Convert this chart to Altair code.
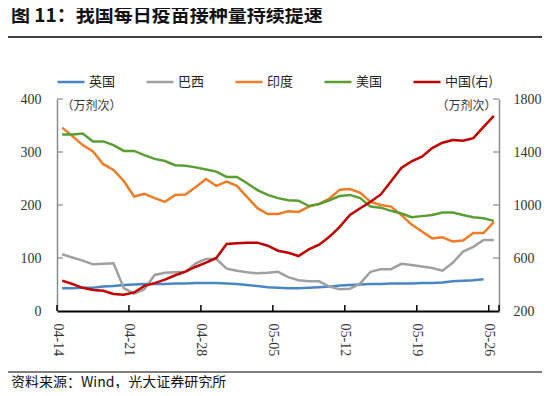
import altair as alt
import pandas as pd

# ---------------- data ----------------
DATES = [d.strftime("%m-%d") for d in pd.date_range("2021-04-14", "2021-05-26")]

SERIES = ["英国", "巴西", "印度", "美国", "中国(右)"]
COLORS = ["#4A86C5", "#A0A0A0", "#F07C28", "#5A9E32", "#C00000"]

UK = [43, 43, 44, 44, 46, 47, 49, 50, 51, 51, 51, 52, 52, 53, 53, 53, 52, 51, 49, 47,
      45, 44, 43, 43, 44, 45, 46, 48, 49, 50, 51, 51, 52, 52, 52, 53, 53, 54, 56, 57,
      58, 60]
BRAZIL = [107, 101, 95, 88, 89, 90, 43, 33, 41, 68, 72, 73, 74, 90, 98, 98, 80, 76, 73, 71,
          72, 74, 64, 58, 56, 56, 46, 41, 42, 52, 74, 79, 79, 89, 87, 84, 81, 76, 91, 112,
          121, 134, 134]
INDIA = [346, 330, 313, 301, 277, 266, 245, 216, 221, 213, 206, 219, 220, 234, 249, 236, 244, 236, 215, 194,
         183, 183, 188, 187, 197, 202, 212, 229, 230, 223, 206, 200, 197, 181, 163, 150, 137, 139, 131, 133,
         147, 147, 168]
USA = [333, 333, 335, 320, 320, 313, 302, 302, 294, 287, 283, 275, 274, 271, 267, 263, 253, 253, 241, 228,
       219, 213, 209, 208, 198, 202, 209, 217, 219, 213, 197, 195, 189, 184, 177, 179, 181, 186, 186, 181,
       177, 175, 170]
CHINA = [429, 404, 375, 358, 352, 328, 322, 340, 390, 410, 437, 470, 497, 534, 565, 600, 706, 711, 716, 716,
         693, 655, 640, 615, 665, 700, 760, 835, 925, 975, 1025, 1080, 1180, 1280, 1330, 1365, 1430, 1470, 1490, 1485,
         1505, 1590, 1672]

X_TICKS = [0, 7, 14, 21, 28, 35, 42]
LEFT_TICKS = [100, 200, 300, 400]
RIGHT_TICKS = [600, 1000, 1400, 1800]

TITLE = "图 11：我国每日疫苗接种量持续提速"
SOURCE = "资料来源：Wind，光大证券研究所"
UNIT = "（万剂次）"

# ---------------- tables ----------------
rows = []
for name, vals in zip(SERIES[:4], [UK, BRAZIL, INDIA, USA]):
    for i, v in enumerate(vals):
        rows.append({"series": name, "pos": i + 0.5, "date": DATES[i], "value": v})
df_left = pd.DataFrame(rows)
df_right = pd.DataFrame([{"series": SERIES[4], "pos": i + 0.5, "date": DATES[i], "value": v}
                         for i, v in enumerate(CHINA)])

W, H = 442, 212
label_arr = "[" + ",".join(f"'{d}'" for d in DATES) + "]"

x_enc = alt.X(
    "pos:Q",
    scale=alt.Scale(domain=[0, 43], nice=False, zero=False),
    axis=alt.Axis(
        values=X_TICKS, labelExpr=f"{label_arr}[datum.value]", labelAngle=90,
        title=None, ticks=False, grid=False, domainColor="#000000", domainWidth=1.8,
        labelPadding=12, labelFont="Liberation Serif", labelFontSize=14, labelColor="#333333",
    ),
)

color_enc = alt.Color(
    "series:N",
    scale=alt.Scale(domain=SERIES, range=COLORS),
    legend=alt.Legend(
        orient="none", legendX=-1, legendY=-32, direction="horizontal", title=None,
        symbolType="stroke", symbolSize=729, symbolStrokeWidth=2.5,
        labelFont="Noto Sans CJK SC", labelFontSize=13, labelColor="#222222",
        columnPadding=25, labelOffset=3,
    ),
)

y_left = alt.Y(
    "value:Q",
    scale=alt.Scale(domain=[0, 400], nice=False),
    axis=alt.Axis(
        orient="left", values=[0] + LEFT_TICKS, ticks=False, grid=False,
        domainColor="#8c8c8c", domainWidth=1.5, labelPadding=16, format="d",
        labelFont="Liberation Serif", labelFontSize=14, labelColor="#333333",
        title=UNIT, titleAngle=0, titleX=4, titleY=6, titleAlign="left", titleBaseline="middle",
        titleFont="Noto Sans CJK SC", titleFontSize=12, titleFontWeight="normal", titleColor="#333333",
    ),
)
y_right = alt.Y(
    "value:Q",
    scale=alt.Scale(domain=[200, 1800], nice=False, zero=False),
    axis=alt.Axis(
        orient="right", values=[200] + RIGHT_TICKS, ticks=False, grid=False,
        domainColor="#8c8c8c", domainWidth=1.5, labelPadding=14, format="d",
        labelFont="Liberation Serif", labelFontSize=14, labelColor="#333333",
        title=UNIT, titleAngle=0, titleX=-3, titleY=6, titleAlign="right", titleBaseline="middle",
        titleFont="Noto Sans CJK SC", titleFontSize=12, titleFontWeight="normal", titleColor="#333333",
    ),
)

left_lines = alt.Chart(df_left).mark_line(strokeWidth=2.5).encode(
    x=x_enc, y=y_left, color=color_enc
)
left_ticks = alt.Chart(pd.DataFrame({"value": LEFT_TICKS})).mark_rule(
    color="#8c8c8c", strokeWidth=1.2
).encode(y="value:Q", x=alt.value(0), x2=alt.value(6))

right_line = alt.Chart(df_right).mark_line(strokeWidth=2.5).encode(
    x=x_enc, y=y_right, color=color_enc
)
right_ticks = alt.Chart(pd.DataFrame({"value": RIGHT_TICKS})).mark_rule(
    color="#8c8c8c", strokeWidth=1.2
).encode(y="value:Q", x=alt.value(W), x2=alt.value(W - 6))

x_ticks = alt.Chart(pd.DataFrame({"pos": X_TICKS + [43]})).mark_rule(
    color="#000000", strokeWidth=1.5
).encode(x=alt.X("pos:Q"), y=alt.value(H), y2=alt.value(H - 6))

one = pd.DataFrame({"a": [0]})
title_mark = alt.Chart(one).mark_text(
    text=TITLE, align="left", baseline="middle", font="Noto Sans CJK SC",
    fontSize=19, fontWeight="bold", color="#111111"
).encode(x=alt.value(-46), y=alt.value(-83))
top_rule = alt.Chart(one).mark_rule(color="#000000", strokeWidth=1.5).encode(
    x=alt.value(-49), x2=alt.value(485), y=alt.value(-62)
)
bottom_rule = alt.Chart(one).mark_rule(color="#000000", strokeWidth=1.2).encode(
    x=alt.value(-49), x2=alt.value(485), y=alt.value(273)
)
source_mark = alt.Chart(one).mark_text(
    text=SOURCE, align="left", baseline="middle", font="Noto Sans CJK SC",
    fontSize=14, color="#111111"
).encode(x=alt.value(-46), y=alt.value(284))

left_group = alt.layer(left_lines, left_ticks)
right_group = alt.layer(right_line, right_ticks)

chart = alt.layer(
    left_group, right_group, x_ticks, title_mark, top_rule, bottom_rule, source_mark
).resolve_scale(y="independent").properties(
    width=W, height=H,
    autosize=alt.AutoSizeParams(type="none"),
    padding={"left": 49, "top": 91, "right": 43, "bottom": 77},
    background="white",
).configure_view(stroke=None)

chart.save("out.html", embed_options={"renderer": "svg", "actions": False})
